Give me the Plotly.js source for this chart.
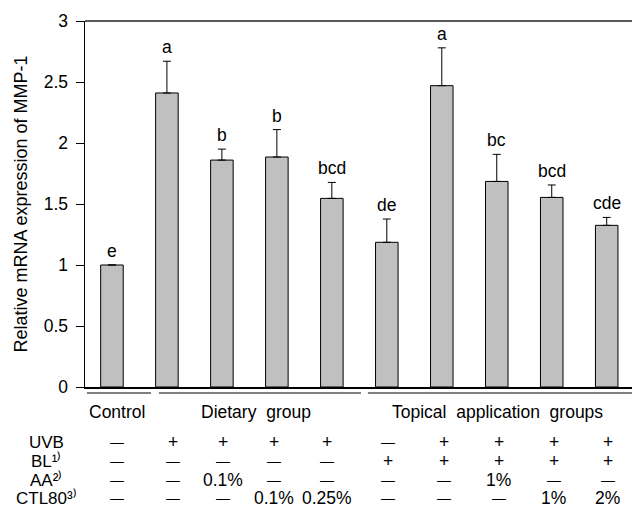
<!DOCTYPE html>
<html>
<head>
<meta charset="utf-8">
<script src="https://cdn.plot.ly/plotly-3.0.1.min.js"></script>
<style>html,body{margin:0;padding:0;background:#fff;}#chart{width:632px;height:518px;}</style>
</head>
<body>
<div id="chart"></div>
<script>
// ---- data ----
const groups = [0,1,2,3,4,5,6,7,8,9];
const means  = [1.00, 2.41, 1.86, 1.885, 1.546, 1.186, 2.47, 1.685, 1.554, 1.325];
const errUp  = [0.00, 0.26, 0.09, 0.225, 0.131, 0.191, 0.31, 0.222, 0.102, 0.065];
const letters = ["e","a","b","b","bcd","de","a","bc","bcd","cde"];
const rowLabels = ["UVB","BL¹⁾","AA²⁾","CTL80³⁾"];
const uvbRow  = ["—","+","+","+","+","—","+","+","+","+"];
const blRow   = ["—","—","—","—","—","+","+","+","+","+"];
const aaRow   = ["—","—","0.1%","—","—","—","—","1%","—","—"];
const ctlRow  = ["—","—","—","0.1%","0.25%","—","—","—","1%","2%"];
const groupNames = ["Control","Dietary&nbsp;&nbsp;group","Topical&nbsp;&nbsp;application&nbsp;&nbsp;groups"];
const yTicks = [0,0.5,1,1.5,2,2.5,3];
const yTickText = ["0","0.5","1","1.5","2","2.5","3"];

// ---- layout helpers ----
const FONT = "Liberation Sans, Arial, sans-serif";
const FS = 17.5;
const rows = [uvbRow, blRow, aaRow, ctlRow];
const rowY = [-55, -74, -93, -111];
const colShift = [5,6,1,-3,-5,1,2,2,2,1];
const groupSpan = [[-0.455,0.71],[0.855,4.53],[4.655,9.6]];
const groupLabelX = [0.09, 2.62, 7.02];

const annotations = [];
// significance letters
groups.forEach((g,i)=>{
  annotations.push({x:g, y:means[i]+errUp[i], xref:'x', yref:'y', text:letters[i],
    showarrow:false, yanchor:'bottom', yshift:3, borderpad:0, font:{family:FONT,size:FS,color:'#000'}});
});
// group labels
groupNames.forEach((t,i)=>{
  annotations.push({x:groupLabelX[i], y:0, xref:'x', yref:'paper', text:t, showarrow:false,
    yanchor:'middle', yshift:-25, borderpad:0, font:{family:FONT,size:FS,color:'#000'}});
});
// row labels
rowLabels.forEach((t,r)=>{
  annotations.push({x:0, y:0, xref:'paper', yref:'paper', text:t, showarrow:false,
    xanchor:'center', xshift:-39, yanchor:'middle', yshift:rowY[r], borderpad:0,
    font:{family:FONT,size:17,color:'#000'}});
});
// table cells
rows.forEach((row,r)=>{
  row.forEach((t,i)=>{
    annotations.push({x:groups[i], y:0, xref:'x', yref:'paper', text:t, showarrow:false,
      xanchor:'center', xshift:colShift[i], yanchor:'middle', yshift:rowY[r], borderpad:0,
      font:{family:FONT,size:(t==="—"?14:FS),color:'#000'}});
  });
});

const shapes = [
  {type:'line', xref:'paper', yref:'paper', x0:0, x1:1, y0:1, y1:1, line:{color:'#222', width:1.5}}
];
groupSpan.forEach(s=>{
  shapes.push({type:'line', xref:'x', yref:'paper', ysizemode:'pixel', yanchor:0,
    x0:s[0], x1:s[1], y0:-6, y1:-6, line:{color:'#808080', width:2}});
});

const trace = {
  type:'bar', x:groups, y:means, width:0.41,
  marker:{color:'#c0c0c0', line:{color:'#000', width:1}},
  error_y:{type:'data', symmetric:false, array:errUp, arrayminus:groups.map(()=>0),
    color:'#000', thickness:1, width:4, visible:true},
  hoverinfo:'skip'
};

const layout = {
  width:632, height:518,
  margin:{l:85, r:0, t:21, b:131},
  paper_bgcolor:'#fff', plot_bgcolor:'#fff',
  showlegend:false,
  font:{family:FONT, size:FS, color:'#000'},
  xaxis:{range:[-0.49,9.46], showticklabels:false, ticks:'', showgrid:false, zeroline:false,
    showline:true, linecolor:'#000', linewidth:1.5, fixedrange:true},
  yaxis:{range:[0,3], tickvals:yTicks, ticktext:yTickText, ticks:'outside', ticklen:8, tickwidth:1,
    tickcolor:'#000', showgrid:false, zeroline:false, showline:true, linecolor:'#000', linewidth:1.5,
    tickfont:{family:FONT,size:FS,color:'#000'}, ticklabelstandoff:4,
    title:{text:'Relative mRNA expression of MMP-1', font:{family:FONT,size:18,color:'#000'}, standoff:11},
    fixedrange:true},
  annotations:annotations,
  shapes:shapes
};

Plotly.newPlot('chart',[trace],layout,{displayModeBar:false, staticPlot:true});
</script>
</body>
</html>
